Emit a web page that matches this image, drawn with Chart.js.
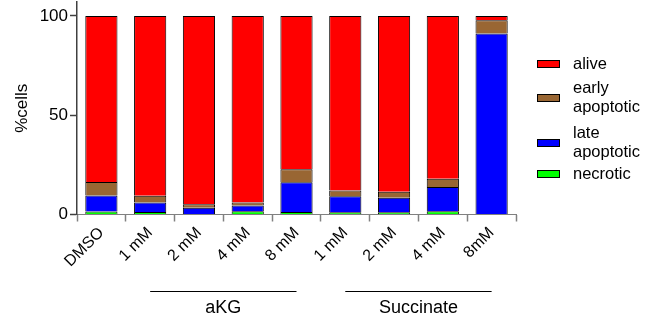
<!DOCTYPE html>
<html>
<head>
<meta charset="utf-8">
<script src="https://cdn.jsdelivr.net/npm/chart.js@4/dist/chart.umd.min.js"></script>
<style>
html,body{margin:0;padding:0;background:#fff;}
#wrap{position:relative;width:651px;height:323px;}
</style>
</head>
<body>
<div id="wrap"><canvas id="c" width="651" height="323"></canvas></div>
<script>
// ---- data ----
const categories = ['DMSO', '1 mM', '2 mM', '4 mM', '8 mM', '1 mM', '2 mM', '4 mM', '8mM'];
const necrotic = [1.5, 1.3, 0.2, 1.6, 1.3, 1.1, 1.1, 1.6, 0.2];
const lateApoptotic = [8.1, 4.8, 3.2, 2.9, 14.9, 8.1, 7.3, 12.2, 91.0];
const earlyApoptotic = [6.8, 3.3, 1.8, 1.6, 6.6, 2.9, 3.0, 4.2, 6.6];
const alive = [83.6, 90.6, 94.8, 93.9, 77.2, 87.9, 88.6, 82.0, 2.2];
const yTicks = [0, 50, 100];
const groupNames = ['aKG', 'Succinate'];
const groupStart = [1, 5];
const groupEnd = [4, 8];

const FONT = '"Liberation Sans", Arial, sans-serif';

const legendPlugin = {
  id: 'customLegend',
  afterDraw(chart) {
    const ctx = chart.ctx;
    const items = [
      {lines: ['alive'], ds: 3, y: 64},
      {lines: ['early', 'apoptotic'], ds: 2, y: 98},
      {lines: ['late', 'apoptotic'], ds: 1, y: 143},
      {lines: ['necrotic'], ds: 0, y: 174}
    ];
    ctx.save();
    ctx.font = '16.5px ' + FONT;
    ctx.textBaseline = 'middle';
    ctx.textAlign = 'left';
    items.forEach(it => {
      const d = chart.data.datasets[it.ds];
      ctx.fillStyle = d.backgroundColor;
      ctx.fillRect(537, it.y - 4, 23, 8);
      ctx.strokeStyle = '#000';
      ctx.lineWidth = 1;
      ctx.strokeRect(537.5, it.y - 3.5, 22, 7);
      ctx.fillStyle = '#000';
      const lh = 19;
      const n = it.lines.length;
      it.lines.forEach((t, i) => {
        ctx.fillText(t, 573, it.y + (i - (n - 1) / 2) * lh);
      });
    });
    ctx.restore();
  }
};

const groupPlugin = {
  id: 'groups',
  afterDraw(chart) {
    const ctx = chart.ctx;
    const xs = chart.scales.x;
    ctx.save();
    ctx.strokeStyle = '#000';
    ctx.lineWidth = 1;
    ctx.fillStyle = '#000';
    ctx.font = '18px ' + FONT;
    ctx.textAlign = 'center';
    ctx.textBaseline = 'middle';
    groupNames.forEach((g, i) => {
      const x1 = xs.getPixelForValue(groupStart[i]);
      const x2 = xs.getPixelForValue(groupEnd[i]);
      ctx.beginPath();
      ctx.moveTo(x1, 291.5);
      ctx.lineTo(x2, 291.5);
      ctx.stroke();
      ctx.fillText(g, (x1 + x2) / 2, 308);
    });
    ctx.restore();
  }
};

const common = {
  borderColor: '#000',
  borderWidth: {top: 1, left: 1, right: 1, bottom: 0},
  borderSkipped: false,
  categoryPercentage: 1,
  barPercentage: 0.66
};

new Chart(document.getElementById('c'), {
  type: 'bar',
  data: {
    labels: categories,
    datasets: [
      Object.assign({label: 'necrotic', data: necrotic, backgroundColor: '#00FF00'}, common),
      Object.assign({label: 'late apoptotic', data: lateApoptotic, backgroundColor: '#0000FF'}, common),
      Object.assign({label: 'early apoptotic', data: earlyApoptotic, backgroundColor: '#996633'}, common),
      Object.assign({label: 'alive', data: alive, backgroundColor: '#FF0000'}, common)
    ]
  },
  options: {
    responsive: false,
    animation: false,
    layout: {padding: {top: 2, right: 135, left: 0, bottom: 0}},
    plugins: {legend: {display: false}, tooltip: {enabled: false}},
    scales: {
      x: {
        stacked: true,
        offset: true,
        grid: {drawOnChartArea: false, drawTicks: true, tickLength: 7, tickColor: '#808080', tickWidth: 1.5},
        border: {display: true, color: '#808080', width: 1},
        ticks: {color: '#000', font: {family: FONT, size: 16}, maxRotation: 45, minRotation: 45, padding: 2, autoSkip: false},
        afterFit(s) { s.height = 108.5; }
      },
      y: {
        stacked: true,
        min: 0,
        max: 107,
        afterBuildTicks(s) { s.ticks = yTicks.map(v => ({value: v})); },
        grid: {drawOnChartArea: false, drawTicks: true, tickLength: 7, tickColor: '#404040', tickWidth: 1.5},
        border: {display: true, color: '#404040', width: 1.5},
        ticks: {color: '#000', font: {family: FONT, size: 17}, padding: 2},
        title: {display: true, text: '%cells', color: '#000', font: {family: FONT, size: 17}, padding: {top: 12, bottom: 0}},
        afterFit(s) { s.width = 77; s.paddingTop = 0; s.paddingBottom = 0; }
      }
    }
  },
  plugins: [legendPlugin, groupPlugin]
});
</script>
</body>
</html>
